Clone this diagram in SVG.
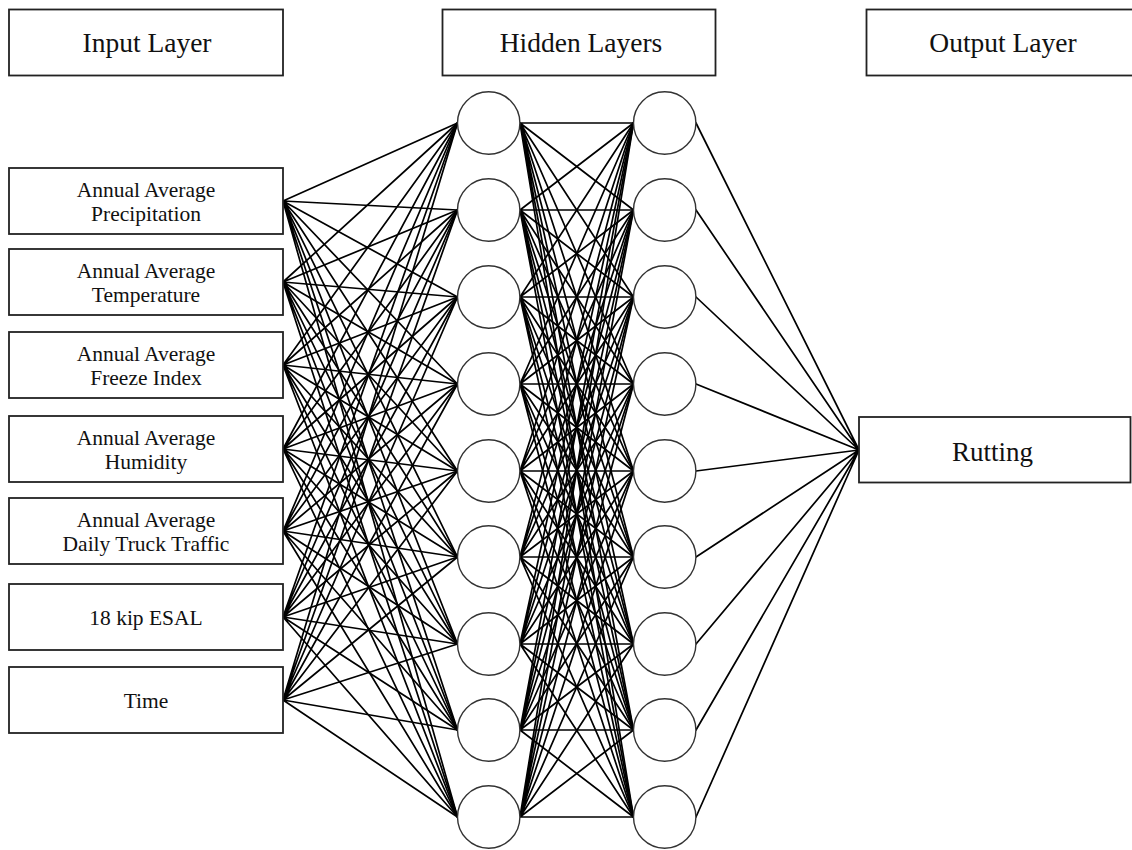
<svg xmlns="http://www.w3.org/2000/svg" width="1132" height="850" viewBox="0 0 1132 850">
<style>
.box{fill:#fff;stroke:#222;stroke-width:1.8}
.hdr{font-family:"Liberation Serif","Times New Roman",serif;font-size:27.5px;fill:#111;text-anchor:middle}
.lbl{font-family:"Liberation Serif","Times New Roman",serif;font-size:21.5px;fill:#111;text-anchor:middle}
.out{font-family:"Liberation Serif","Times New Roman",serif;font-size:27px;fill:#111;text-anchor:middle}
.conn{fill:none;stroke:#000;stroke-width:1.7;stroke-linecap:round}
.neuron{fill:#fff;stroke:#333;stroke-width:1.4}
</style>
<rect width="1132" height="850" fill="#fff"/>
<g id="header-input"><rect class="box" x="9" y="9.5" width="274" height="66"/><text class="hdr" x="147" y="52">Input Layer</text></g>
<g id="header-hidden"><rect class="box" x="442.5" y="9.5" width="273" height="66"/><text class="hdr" x="581" y="52">Hidden Layers</text></g>
<g id="header-output"><rect class="box" x="866.5" y="9.5" width="280" height="66"/><text class="hdr" x="1003" y="52">Output Layer</text></g>

<g id="connectors">
<path class="conn" d="M283 201L457.5 123M283 201L457.5 210M283 201L457.5 297M283 201L457.5 384M283 201L457.5 471M283 201L457.5 557M283 201L457.5 644M283 201L457.5 730M283 201L457.5 817"/>
<path class="conn" d="M283 282L457.5 123M283 282L457.5 210M283 282L457.5 297M283 282L457.5 384M283 282L457.5 471M283 282L457.5 557M283 282L457.5 644M283 282L457.5 730M283 282L457.5 817"/>
<path class="conn" d="M283 365L457.5 123M283 365L457.5 210M283 365L457.5 297M283 365L457.5 384M283 365L457.5 471M283 365L457.5 557M283 365L457.5 644M283 365L457.5 730M283 365L457.5 817"/>
<path class="conn" d="M283 449L457.5 123M283 449L457.5 210M283 449L457.5 297M283 449L457.5 384M283 449L457.5 471M283 449L457.5 557M283 449L457.5 644M283 449L457.5 730M283 449L457.5 817"/>
<path class="conn" d="M283 531L457.5 123M283 531L457.5 210M283 531L457.5 297M283 531L457.5 384M283 531L457.5 471M283 531L457.5 557M283 531L457.5 644M283 531L457.5 730M283 531L457.5 817"/>
<path class="conn" d="M283 617L457.5 123M283 617L457.5 210M283 617L457.5 297M283 617L457.5 384M283 617L457.5 471M283 617L457.5 557M283 617L457.5 644M283 617L457.5 730M283 617L457.5 817"/>
<path class="conn" d="M283 700L457.5 123M283 700L457.5 210M283 700L457.5 297M283 700L457.5 384M283 700L457.5 471M283 700L457.5 557M283 700L457.5 644M283 700L457.5 730M283 700L457.5 817"/>

<path class="conn" d="M520 123L633.5 123M520 123L633.5 210M520 123L633.5 297M520 123L633.5 384M520 123L633.5 471M520 123L633.5 557M520 123L633.5 644M520 123L633.5 730M520 123L633.5 817"/>
<path class="conn" d="M520 210L633.5 123M520 210L633.5 210M520 210L633.5 297M520 210L633.5 384M520 210L633.5 471M520 210L633.5 557M520 210L633.5 644M520 210L633.5 730M520 210L633.5 817"/>
<path class="conn" d="M520 297L633.5 123M520 297L633.5 210M520 297L633.5 297M520 297L633.5 384M520 297L633.5 471M520 297L633.5 557M520 297L633.5 644M520 297L633.5 730M520 297L633.5 817"/>
<path class="conn" d="M520 384L633.5 123M520 384L633.5 210M520 384L633.5 297M520 384L633.5 384M520 384L633.5 471M520 384L633.5 557M520 384L633.5 644M520 384L633.5 730M520 384L633.5 817"/>
<path class="conn" d="M520 471L633.5 123M520 471L633.5 210M520 471L633.5 297M520 471L633.5 384M520 471L633.5 471M520 471L633.5 557M520 471L633.5 644M520 471L633.5 730M520 471L633.5 817"/>
<path class="conn" d="M520 557L633.5 123M520 557L633.5 210M520 557L633.5 297M520 557L633.5 384M520 557L633.5 471M520 557L633.5 557M520 557L633.5 644M520 557L633.5 730M520 557L633.5 817"/>
<path class="conn" d="M520 644L633.5 123M520 644L633.5 210M520 644L633.5 297M520 644L633.5 384M520 644L633.5 471M520 644L633.5 557M520 644L633.5 644M520 644L633.5 730M520 644L633.5 817"/>
<path class="conn" d="M520 730L633.5 123M520 730L633.5 210M520 730L633.5 297M520 730L633.5 384M520 730L633.5 471M520 730L633.5 557M520 730L633.5 644M520 730L633.5 730M520 730L633.5 817"/>
<path class="conn" d="M520 817L633.5 123M520 817L633.5 210M520 817L633.5 297M520 817L633.5 384M520 817L633.5 471M520 817L633.5 557M520 817L633.5 644M520 817L633.5 730M520 817L633.5 817"/>

<path class="conn" d="M696 123L859 450M696 210L859 450M696 297L859 450M696 384L859 450M696 471L859 450M696 557L859 450M696 644L859 450M696 730L859 450M696 817L859 450"/>
</g>

<g id="in-precipitation"><rect class="box" x="9" y="168" width="274" height="66"/><text class="lbl" x="146" y="197">Annual Average</text><text class="lbl" x="146" y="221">Precipitation</text></g>
<g id="in-temperature"><rect class="box" x="9" y="249" width="274" height="66"/><text class="lbl" x="146" y="278">Annual Average</text><text class="lbl" x="146" y="302">Temperature</text></g>
<g id="in-freeze"><rect class="box" x="9" y="332" width="274" height="66"/><text class="lbl" x="146" y="361">Annual Average</text><text class="lbl" x="146" y="385">Freeze Index</text></g>
<g id="in-humidity"><rect class="box" x="9" y="416" width="274" height="66"/><text class="lbl" x="146" y="445">Annual Average</text><text class="lbl" x="146" y="469">Humidity</text></g>
<g id="in-traffic"><rect class="box" x="9" y="498" width="274" height="66"/><text class="lbl" x="146" y="527">Annual Average</text><text class="lbl" x="146" y="551">Daily Truck Traffic</text></g>
<g id="in-esal"><rect class="box" x="9" y="584" width="274" height="66"/><text class="lbl" x="146" y="624.5">18 kip ESAL</text></g>
<g id="in-time"><rect class="box" x="9" y="667" width="274" height="66"/><text class="lbl" x="146" y="707.5">Time</text></g>

<g id="h1-1"><circle class="neuron" cx="488.7" cy="123" r="31.2"/></g>
<g id="h1-2"><circle class="neuron" cx="488.7" cy="210" r="31.2"/></g>
<g id="h1-3"><circle class="neuron" cx="488.7" cy="297" r="31.2"/></g>
<g id="h1-4"><circle class="neuron" cx="488.7" cy="384" r="31.2"/></g>
<g id="h1-5"><circle class="neuron" cx="488.7" cy="471" r="31.2"/></g>
<g id="h1-6"><circle class="neuron" cx="488.7" cy="557" r="31.2"/></g>
<g id="h1-7"><circle class="neuron" cx="488.7" cy="644" r="31.2"/></g>
<g id="h1-8"><circle class="neuron" cx="488.7" cy="730" r="31.2"/></g>
<g id="h1-9"><circle class="neuron" cx="488.7" cy="817" r="31.2"/></g>

<g id="h2-1"><circle class="neuron" cx="664.7" cy="123" r="31.2"/></g>
<g id="h2-2"><circle class="neuron" cx="664.7" cy="210" r="31.2"/></g>
<g id="h2-3"><circle class="neuron" cx="664.7" cy="297" r="31.2"/></g>
<g id="h2-4"><circle class="neuron" cx="664.7" cy="384" r="31.2"/></g>
<g id="h2-5"><circle class="neuron" cx="664.7" cy="471" r="31.2"/></g>
<g id="h2-6"><circle class="neuron" cx="664.7" cy="557" r="31.2"/></g>
<g id="h2-7"><circle class="neuron" cx="664.7" cy="644" r="31.2"/></g>
<g id="h2-8"><circle class="neuron" cx="664.7" cy="730" r="31.2"/></g>
<g id="h2-9"><circle class="neuron" cx="664.7" cy="817" r="31.2"/></g>

<g id="out-rutting"><rect class="box" x="859" y="417" width="271.5" height="65.5"/><text class="out" x="992.5" y="460.5">Rutting</text></g>
</svg>
